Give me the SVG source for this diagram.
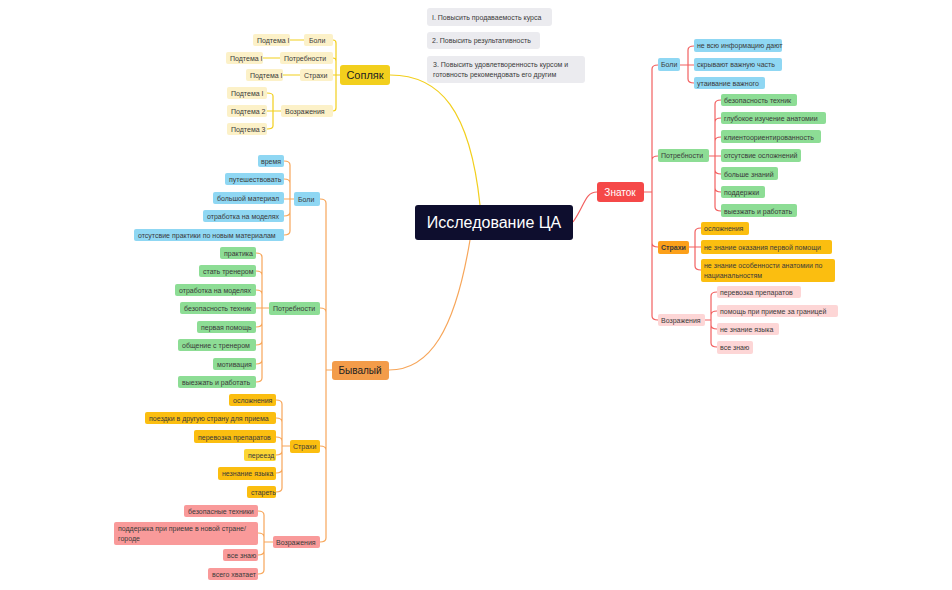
<svg xmlns="http://www.w3.org/2000/svg" width="952" height="590" viewBox="0 0 952 590">
<style>
text{font-family:"Liberation Sans",Arial,sans-serif;font-size:7px;fill:#3a3a3a}
.c path{fill:none;stroke-width:1.2}
.y{stroke:#f2cf1d}.o{stroke:#f7a65a}.r{stroke:#f26060}
.ly{fill:#fcf1c8}.bl{fill:#8fd7f3}.gr{fill:#8ddd95}.yo{fill:#fbbe10}.ye{fill:#fcd634}.pk{fill:#f99a9a}.lp{fill:#fdd6d6}.nt{fill:#ebebef}
</style>
<rect width="952" height="590" fill="#fff"/>
<g class="c">
<path class="y" d="M480,205 C470,110 440,75 390,75"/>
<path class="o" d="M470,240 C455,330 430,370 389,370"/>
<path class="r" d="M573,222 C585,205 585,192 597,192"/>
<path class="y" d="M340,75 H336 V43 Q336,40 333,40 M336,75 V61 Q336,58 333,58 M340,75 H333 M336,75 V108 Q336,111 333,111"/>
<path class="y" d="M304,40 H290 M280,58 H263 M300,75 H283 M281,111 H273 M273,111 V96 Q273,93 267,93 M273,111 H267 M273,111 V126 Q273,129 267,129"/>
<path class="o" d="M332,370 H326 M326,370 V203 Q326,199 320,199 M326,370 V312 Q326,308 320,308 M326,370 V450 Q326,446 320,446 M326,370 V538 Q326,542 320,542"/>
<path class="o" d="M294,199 H290 V165 Q290,161 284,161 M290,199 V183 Q290,179 284,179 M290,199 H284 M290,199 V212 Q290,216 284,216 M290,199 V231 Q290,235 284,235"/>
<path class="o" d="M269,308 H262 V257 Q262,253 256,253 M262,308 V275 Q262,271 256,271 M262,308 V294 Q262,290 256,290 M262,308 H256 M262,308 V323 Q262,327 256,327 M262,308 V341 Q262,345 256,345 M262,308 V360 Q262,364 256,364 M262,308 V378 Q262,382 256,382"/>
<path class="o" d="M290,446 H282 V404 Q282,400 276,400 M282,446 V422 Q282,418 276,418 M282,446 V441 Q282,437 276,437 M282,446 V451 Q282,455 276,455 M282,446 V469 Q282,473 276,473 M282,446 V488 Q282,492 276,492"/>
<path class="o" d="M273,542 H264 V515 Q264,511 258,511 M264,542 V537 Q264,533 258,533 M264,542 V551 Q264,555 258,555 M264,542 V570 Q264,574 258,574"/>
<path class="r" d="M644,192 H652 M652,192 V69 Q652,65 658,65 M652,192 V160 Q652,156 658,156 M652,192 V243 Q652,247 658,247 M652,192 V316 Q652,320 658,320"/>
<path class="r" d="M680,65 H688 V50 Q688,46 694,46 M688,65 H694 M688,65 V79 Q688,83 694,83"/>
<path class="r" d="M709,156 H715 V104 Q715,100 721,100 M715,156 V122 Q715,118 721,118 M715,156 V141 Q715,137 721,137 M715,156 H721 M715,156 V170 Q715,174 721,174 M715,156 V188 Q715,192 721,192 M715,156 V207 Q715,211 721,211"/>
<path class="r" d="M689,247 H695 V232 Q695,228 701,228 M695,247 H701 M695,247 V266 Q695,270 701,270"/>
<path class="r" d="M705,320 H711 V296 Q711,292 717,292 M711,320 V315 Q711,311 717,311 M711,320 V325 Q711,329 717,329 M711,320 V343 Q711,347 717,347"/>
</g>
<g id="center"><rect x="415" y="205" width="158" height="35" rx="3" fill="#0e0e2e"/><text x="494" y="228" text-anchor="middle" style="font-size:16px;fill:#fff">Исследование ЦА</text></g>
<g id="notes">
<rect class="nt" x="427" y="8" width="125" height="18" rx="3"/><text x="432" y="20">I. Повысить продаваемость курса</text>
<rect class="nt" x="427" y="32" width="113" height="17" rx="3"/><text x="432" y="43">2. Повысить результативность</text>
<rect class="nt" x="427" y="56" width="158" height="27" rx="3"/><text x="433" y="67">3. Повысить удовлетворенность курсом и</text><text x="433" y="77">готовность рекомендовать его другим</text>
</g>
<g id="sopliak"><rect x="340" y="65" width="50" height="20" rx="3" fill="#f2cf1d"/><text x="365" y="79" text-anchor="middle" style="font-size:11px;fill:#222">Сопляк</text></g>
<g id="s-nodes">
<rect class="ly" x="304" y="34" width="29" height="12" rx="2"/><text x="309" y="43">Боли</text>
<rect class="ly" x="280" y="52" width="53" height="12" rx="2"/><text x="284" y="61">Потребности</text>
<rect class="ly" x="300" y="69" width="33" height="12" rx="2"/><text x="304" y="78">Страхи</text>
<rect class="ly" x="281" y="105" width="52" height="12" rx="2"/><text x="285" y="114">Возражения</text>
<rect class="ly" x="253" y="34" width="37" height="12" rx="2"/><text x="257" y="43">Подтема I</text>
<rect class="ly" x="226" y="52" width="37" height="12" rx="2"/><text x="230" y="61">Подтема I</text>
<rect class="ly" x="246" y="69" width="37" height="12" rx="2"/><text x="250" y="78">Подтема I</text>
<rect class="ly" x="227" y="87" width="40" height="12" rx="2"/><text x="231" y="96">Подтема I</text>
<rect class="ly" x="227" y="105" width="40" height="12" rx="2"/><text x="231" y="114">Подтема 2</text>
<rect class="ly" x="227" y="123" width="40" height="12" rx="2"/><text x="231" y="132">Подтема 3</text>
</g>
<g id="bivaliy"><rect x="332" y="361" width="57" height="19" rx="3" fill="#f39c4a"/><text x="360" y="374" text-anchor="middle" style="font-size:10px;fill:#222">Бывалый</text></g>
<g id="b-nodes">
<rect class="bl" x="294" y="192" width="26" height="14" rx="2"/><text x="298" y="202">Боли</text>
<rect class="bl" x="258" y="155" width="26" height="12" rx="2"/><text x="261" y="164">время</text>
<rect class="bl" x="225" y="173" width="59" height="12" rx="2"/><text x="229" y="182">путешествовать</text>
<rect class="bl" x="213" y="192" width="71" height="12" rx="2"/><text x="217" y="201">большой материал</text>
<rect class="bl" x="203" y="210" width="81" height="12" rx="2"/><text x="207" y="219">отработка на моделях</text>
<rect class="bl" x="134" y="229" width="150" height="12" rx="2"/><text x="138" y="238">отсутсвие практики по новым материалам</text>
<rect class="gr" x="269" y="302" width="51" height="13" rx="2"/><text x="273" y="311">Потребности</text>
<rect class="gr" x="220" y="247" width="36" height="12" rx="2"/><text x="224" y="256">практика</text>
<rect class="gr" x="199" y="265" width="57" height="12" rx="2"/><text x="203" y="274">стать тренером</text>
<rect class="gr" x="175" y="284" width="81" height="12" rx="2"/><text x="179" y="293">отработка на моделях</text>
<rect class="gr" x="180" y="302" width="76" height="12" rx="2"/><text x="184" y="311">безопасность техник</text>
<rect class="gr" x="197" y="321" width="59" height="12" rx="2"/><text x="201" y="330">первая помощь</text>
<rect class="gr" x="178" y="339" width="78" height="12" rx="2"/><text x="182" y="348">общение с тренером</text>
<rect class="gr" x="213" y="358" width="43" height="12" rx="2"/><text x="217" y="367">мотивация</text>
<rect class="gr" x="178" y="376" width="78" height="12" rx="2"/><text x="182" y="385">выезжать и работать</text>
<rect class="yo" x="290" y="440" width="30" height="13" rx="2"/><text x="293" y="449">Страхи</text>
<rect class="yo" x="229" y="394" width="47" height="12" rx="2"/><text x="233" y="403">осложнения</text>
<rect class="yo" x="145" y="412" width="131" height="12" rx="2"/><text x="149" y="421">поездки в другую страну для приема</text>
<rect class="yo" x="194" y="430" width="82" height="13" rx="2"/><text x="198" y="440">перевозка препаратов</text>
<rect class="ye" x="244" y="449" width="32" height="12" rx="2"/><text x="248" y="458">переезд</text>
<rect class="yo" x="218" y="467" width="58" height="13" rx="2"/><text x="222" y="476">незнание языка</text>
<rect class="yo" x="247" y="486" width="29" height="12" rx="2"/><text x="251" y="495">стареть</text>
<rect class="pk" x="273" y="536" width="47" height="12" rx="2"/><text x="276" y="545">Возражения</text>
<rect class="pk" x="184" y="505" width="74" height="12" rx="2"/><text x="188" y="514">безопасные техники</text>
<rect class="pk" x="114" y="522" width="144" height="23" rx="2"/><text x="118" y="531">поддержка при приеме в новой стране/</text><text x="118" y="541">городе</text>
<rect class="pk" x="223" y="549" width="35" height="12" rx="2"/><text x="227" y="558">все знаю</text>
<rect class="pk" x="208" y="568" width="50" height="12" rx="2"/><text x="212" y="577">всего хватает</text>
</g>
<g id="znatok"><rect x="597" y="182" width="47" height="20" rx="3" fill="#f54848"/><text x="620" y="196" text-anchor="middle" style="font-size:10px;fill:#fff">Знаток</text></g>
<g id="z-nodes">
<rect class="bl" x="658" y="58" width="22" height="13" rx="2"/><text x="661" y="67">Боли</text>
<rect class="bl" x="694" y="39" width="88" height="13" rx="2"/><text x="697" y="48">не всю информацию дают</text>
<rect class="bl" x="694" y="58" width="88" height="13" rx="2"/><text x="697" y="67">скрывают важную часть</text>
<rect class="bl" x="694" y="77" width="71" height="12" rx="2"/><text x="697" y="86">утаивание важного</text>
<rect class="gr" x="658" y="149" width="51" height="13" rx="2"/><text x="661" y="158">Потребности</text>
<rect class="gr" x="721" y="94" width="76" height="12" rx="2"/><text x="724" y="103">безопасность техник</text>
<rect class="gr" x="721" y="112" width="105" height="12" rx="2"/><text x="724" y="121">глубокое изучение анатомии</text>
<rect class="gr" x="721" y="130" width="100" height="13" rx="2"/><text x="724" y="140">клиентоориентированность</text>
<rect class="gr" x="721" y="149" width="80" height="13" rx="2"/><text x="724" y="158">отсутсвие осложнений</text>
<rect class="gr" x="721" y="167" width="57" height="13" rx="2"/><text x="724" y="177">больше знаний</text>
<rect class="gr" x="721" y="186" width="44" height="12" rx="2"/><text x="724" y="195">поддержки</text>
<rect class="gr" x="721" y="204" width="76" height="13" rx="2"/><text x="724" y="214">выезжать и работать</text>
<rect x="658" y="241" width="31" height="13" rx="2" fill="#fca01a"/><text x="661" y="250" style="font-weight:bold">Страхи</text>
<rect class="yo" x="701" y="222" width="48" height="13" rx="2"/><text x="704" y="231">осложнения</text>
<rect class="yo" x="701" y="240" width="131" height="14" rx="2"/><text x="704" y="250">не знание оказания первой помощи</text>
<rect class="yo" x="701" y="259" width="134" height="23" rx="2"/><text x="704" y="268">не знание особенности анатомии по</text><text x="704" y="278">нацианальностям</text>
<rect class="lp" x="658" y="314" width="47" height="12" rx="2"/><text x="661" y="323">Возражения</text>
<rect class="lp" x="717" y="286" width="84" height="12" rx="2"/><text x="720" y="295">перевозка препаратов</text>
<rect class="lp" x="717" y="305" width="121" height="12" rx="2"/><text x="720" y="314">помощь при приеме за границей</text>
<rect class="lp" x="717" y="323" width="62" height="12" rx="2"/><text x="720" y="332">не знание языка</text>
<rect class="lp" x="717" y="341" width="36" height="13" rx="2"/><text x="720" y="350">все знаю</text>
</g>
</svg>
